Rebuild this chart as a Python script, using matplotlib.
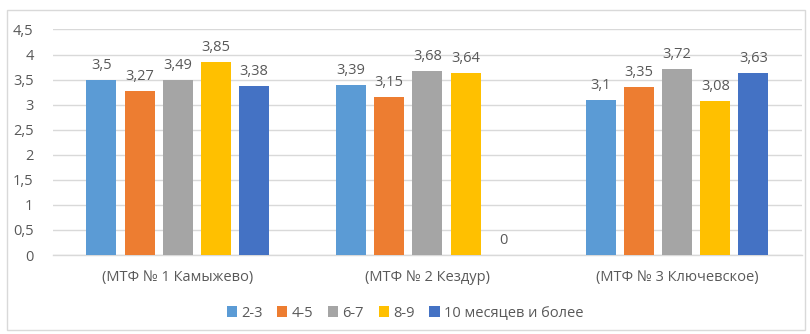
import matplotlib
matplotlib.use("Agg")
import matplotlib.pyplot as plt
from matplotlib.patches import Rectangle
import numpy as np

plt.rcParams['font.family'] = ['Open Sans', 'DejaVu Sans']

categories = ["(МТФ № 1 Камыжево)", "(МТФ № 2 Кездур)", "(МТФ № 3 Ключевское)"]
series_names = ["2-3", "4-5", "6-7", "8-9", "10 месяцев и более"]
values = [
    [3.5, 3.39, 3.1],
    [3.27, 3.15, 3.35],
    [3.49, 3.68, 3.72],
    [3.85, 3.64, 3.08],
    [3.38, 0, 3.63],
]
colors = ["#5B9BD5", "#ED7D31", "#A5A5A5", "#FFC000", "#4472C4"]
yticks = [0, 0.5, 1, 1.5, 2, 2.5, 3, 3.5, 4, 4.5]

text_color = "#595959"
grid_color = "#D9D9D9"

fig = plt.figure(figsize=(8.1, 3.34), dpi=100)
ax = fig.add_axes([0.0654, 0.2365, 0.9246, 0.6752])

x = np.arange(len(categories))
step = 0.153
width = 0.12
n = len(series_names)
for i, (name, vals, c) in enumerate(zip(series_names, values, colors)):
    pos = x + (i - (n - 1) / 2) * step
    bars = ax.bar(pos, vals, width=width, color=c, label=name, zorder=3)
    for b, v in zip(bars, vals):
        lbl = f"{v:g}".replace(".", ",")
        ax.annotate(lbl, (b.get_x() + b.get_width() / 2, v),
                    xytext=(0, 5), textcoords="offset points",
                    ha="center", va="bottom", fontsize=10.5, color=text_color)

ax.set_xlim(-0.5, len(categories) - 0.5)
ax.set_ylim(0, 4.5)
ax.set_yticks(yticks)
ax.set_yticklabels([f"{t:g}".replace(".", ",") for t in yticks])
ax.set_xticks(x)
ax.set_xticklabels(categories)
ax.tick_params(axis="both", length=0, labelsize=10.5, colors=text_color)
ax.tick_params(axis="y", pad=14)
ax.tick_params(axis="x", pad=11)
ax.grid(axis="y", color=grid_color, linewidth=1, zorder=0)
for s in ["top", "right", "left"]:
    ax.spines[s].set_visible(False)
ax.spines["bottom"].set_color(grid_color)
ax.spines["bottom"].set_linewidth(1)

leg = ax.legend(loc="center", bbox_to_anchor=(0.5, 0.0627), bbox_transform=fig.transFigure,
                ncol=5, frameon=False, fontsize=10.5, handlelength=0.7, handleheight=0.7,
                handletextpad=0.3, columnspacing=1.0, labelcolor=text_color)

fig.patches.append(Rectangle((7 / 810, 4 / 334), 798 / 810, 320 / 334,
                             transform=fig.transFigure, fill=False,
                             edgecolor=grid_color, linewidth=1))

fig.savefig("out.png", dpi=100)
